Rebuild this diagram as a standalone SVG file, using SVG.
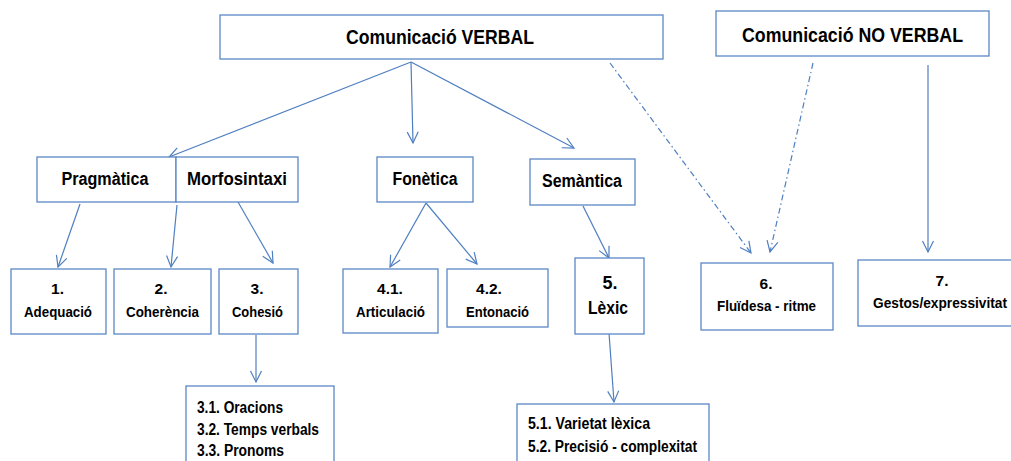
<svg xmlns="http://www.w3.org/2000/svg" width="1011" height="461" viewBox="0 0 1011 461">
<style>
.box{fill:#fff;stroke:#5b88c6;stroke-width:1.3}
.t{font-family:"Liberation Sans",Arial,sans-serif;font-weight:bold;fill:#000;text-anchor:middle}
.tl{font-family:"Liberation Sans",Arial,sans-serif;font-weight:bold;fill:#000;font-size:16px}
.h{font-size:21px}
.m{font-size:18px}
.s{font-size:15.5px}
.c{fill:none;stroke:#4f7fc0;stroke-width:1.2;marker-end:url(#ah)}
.d{stroke-dasharray:6 3 1.5 3}
</style>
<defs>
<marker id="ah" markerUnits="userSpaceOnUse" markerWidth="14" markerHeight="14" refX="12" refY="6" orient="auto" viewBox="0 0 14 12">
<path d="M1,0.5 L12,6 L1,11.5" fill="none" stroke="#4f7fc0" stroke-width="1.2"/>
</marker>
</defs>
<rect width="1011" height="461" fill="#fff"/>
<g id="connectors">
<line class="c" x1="411" y1="62" x2="169" y2="157"/>
<line class="c" x1="411" y1="62" x2="413" y2="143"/>
<line class="c" x1="411" y1="62" x2="574" y2="148"/>
<line class="c d" x1="610" y1="63" x2="751" y2="253"/>
<line class="c d" x1="813" y1="63" x2="770" y2="252"/>
<line class="c" x1="928" y1="65" x2="928" y2="252"/>
<line class="c" x1="80" y1="204" x2="58" y2="267"/>
<line class="c" x1="177" y1="205" x2="171" y2="267"/>
<line class="c" x1="238" y1="202" x2="273" y2="263"/>
<line class="c" x1="426" y1="203" x2="390" y2="267"/>
<line class="c" x1="426" y1="203" x2="477" y2="264"/>
<line class="c" x1="583" y1="206" x2="609" y2="258"/>
<line class="c" x1="256" y1="335" x2="256" y2="382"/>
<line class="c" x1="609" y1="333" x2="614" y2="402"/>
</g>
<g id="verbal">
<rect class="box" x="220" y="15" width="443" height="44"/>
<text class="t h" x="440" y="44" textLength="188" lengthAdjust="spacingAndGlyphs">Comunicació VERBAL</text>
</g>
<g id="noverbal">
<rect class="box" x="716" y="11" width="273" height="45"/>
<text class="t h" x="852.5" y="42" textLength="221" lengthAdjust="spacingAndGlyphs">Comunicació NO VERBAL</text>
</g>
<g id="pragmatica">
<rect class="box" x="37" y="157" width="139" height="45"/>
<text class="t m" x="105" y="185" textLength="87" lengthAdjust="spacingAndGlyphs">Pragmàtica</text>
</g>
<g id="morfosintaxi">
<rect class="box" x="176" y="157" width="122" height="45"/>
<text class="t m" x="237" y="185" textLength="100" lengthAdjust="spacingAndGlyphs">Morfosintaxi</text>
</g>
<g id="fonetica">
<rect class="box" x="377" y="157" width="96" height="45"/>
<text class="t m" x="425" y="185" textLength="65" lengthAdjust="spacingAndGlyphs">Fonètica</text>
</g>
<g id="semantica">
<rect class="box" x="530" y="159" width="105" height="46"/>
<text class="t m" x="582" y="187" textLength="80" lengthAdjust="spacingAndGlyphs">Semàntica</text>
</g>
<g id="adequacio">
<rect class="box" x="11" y="269" width="95" height="65"/>
<text class="t s" x="57.5" y="294">1.</text>
<text class="t s" x="58" y="317" textLength="68" lengthAdjust="spacingAndGlyphs">Adequació</text>
</g>
<g id="coherencia">
<rect class="box" x="114" y="269" width="97" height="65"/>
<text class="t s" x="161" y="294">2.</text>
<text class="t s" x="162.5" y="317" textLength="73" lengthAdjust="spacingAndGlyphs">Coherència</text>
</g>
<g id="cohesio">
<rect class="box" x="219" y="269" width="79" height="65"/>
<text class="t s" x="257" y="294">3.</text>
<text class="t s" x="257.5" y="317" textLength="51" lengthAdjust="spacingAndGlyphs">Cohesió</text>
</g>
<g id="articulacio">
<rect class="box" x="343" y="269" width="95" height="64"/>
<text class="t s" x="390" y="294">4.1.</text>
<text class="t s" x="390.5" y="317" textLength="69" lengthAdjust="spacingAndGlyphs">Articulació</text>
</g>
<g id="entonacio">
<rect class="box" x="447" y="269" width="101" height="58"/>
<text class="t s" x="489" y="294">4.2.</text>
<text class="t s" x="497.5" y="317" textLength="63" lengthAdjust="spacingAndGlyphs">Entonació</text>
</g>
<g id="lexic">
<rect class="box" x="575" y="258" width="69" height="76"/>
<text class="t m" x="610" y="289">5.</text>
<text class="t m" x="608" y="314" textLength="40" lengthAdjust="spacingAndGlyphs">Lèxic</text>
</g>
<g id="fluidesa">
<rect class="box" x="701" y="263" width="132" height="67"/>
<text class="t s" x="766" y="289">6.</text>
<text class="t s" x="766.5" y="311" textLength="99" lengthAdjust="spacingAndGlyphs">Fluïdesa - ritme</text>
</g>
<g id="gestos">
<rect class="box" x="858" y="260" width="165" height="66"/>
<text class="t s" x="942" y="286">7.</text>
<text class="t s" x="940" y="308" textLength="134" lengthAdjust="spacingAndGlyphs">Gestos/expressivitat</text>
</g>
<g id="cohesio-sub">
<rect class="box" x="186" y="386" width="148" height="90"/>
<text class="tl" x="197" y="413" textLength="86" lengthAdjust="spacingAndGlyphs">3.1. Oracions</text>
<text class="tl" x="197" y="435" textLength="122" lengthAdjust="spacingAndGlyphs">3.2. Temps verbals</text>
<text class="tl" x="197" y="456" textLength="87" lengthAdjust="spacingAndGlyphs">3.3. Pronoms</text>
</g>
<g id="lexic-sub">
<rect class="box" x="517" y="404" width="192" height="70"/>
<text class="tl" x="528" y="429" textLength="122" lengthAdjust="spacingAndGlyphs">5.1. Varietat lèxica</text>
<text class="tl" x="528" y="452" textLength="169" lengthAdjust="spacingAndGlyphs">5.2. Precisió - complexitat</text>
</g>
</svg>
